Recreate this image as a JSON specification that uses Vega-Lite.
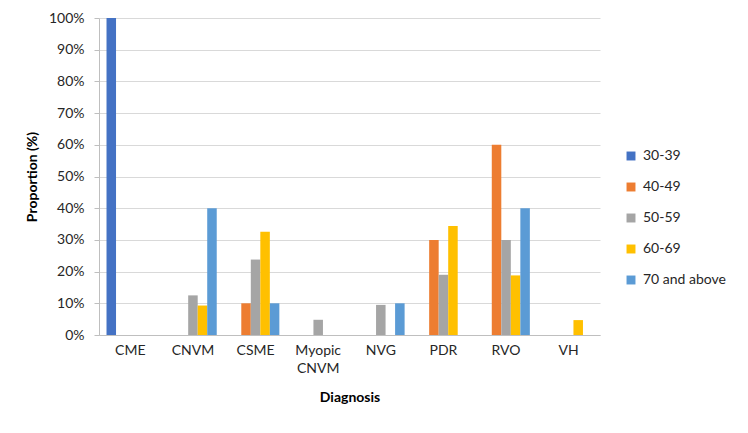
{
  "$schema": "https://vega.github.io/schema/vega-lite/v6.json",
  "width": 501,
  "height": 317,
  "autosize": {"type": "none"},
  "padding": {"left": 99, "top": 18, "right": 148, "bottom": 98},
  "background": "white",
  "config": {
    "font": "Lato",
    "view": {"stroke": null},
    "axis": {"labelFont": "Lato", "titleFont": "Lato", "labelColor": "#262626", "titleColor": "#000000"}
  },
  "data": {
    "values": [
      {"diagnosis": "CME", "age": "30-39", "p": 1.0},
      {"diagnosis": "CNVM", "age": "50-59", "p": 0.125},
      {"diagnosis": "CNVM", "age": "60-69", "p": 0.093},
      {"diagnosis": "CNVM", "age": "70 and above", "p": 0.4},
      {"diagnosis": "CSME", "age": "40-49", "p": 0.1},
      {"diagnosis": "CSME", "age": "50-59", "p": 0.238},
      {"diagnosis": "CSME", "age": "60-69", "p": 0.326},
      {"diagnosis": "CSME", "age": "70 and above", "p": 0.1},
      {"diagnosis": "Myopic CNVM", "age": "50-59", "p": 0.048},
      {"diagnosis": "NVG", "age": "50-59", "p": 0.095},
      {"diagnosis": "NVG", "age": "70 and above", "p": 0.1},
      {"diagnosis": "PDR", "age": "40-49", "p": 0.3},
      {"diagnosis": "PDR", "age": "50-59", "p": 0.19},
      {"diagnosis": "PDR", "age": "60-69", "p": 0.344},
      {"diagnosis": "RVO", "age": "40-49", "p": 0.6},
      {"diagnosis": "RVO", "age": "50-59", "p": 0.3},
      {"diagnosis": "RVO", "age": "60-69", "p": 0.188},
      {"diagnosis": "RVO", "age": "70 and above", "p": 0.4},
      {"diagnosis": "VH", "age": "60-69", "p": 0.047}
    ]
  },
  "mark": {"type": "bar"},
  "encoding": {
    "x": {
      "field": "diagnosis",
      "type": "nominal",
      "sort": ["CME", "CNVM", "CSME", "Myopic CNVM", "NVG", "PDR", "RVO", "VH"],
      "scale": {"domain": ["CME", "CNVM", "CSME", "Myopic CNVM", "NVG", "PDR", "RVO", "VH"], "paddingInner": 0.24, "paddingOuter": 0.12},
      "axis": {
        "title": "Diagnosis",
        "titleFontSize": 14,
        "titleFontWeight": "bold",
        "titlePadding": 15,
        "labelAngle": 0,
        "labelFontSize": 14,
        "labelPadding": 8,
        "labelExpr": "split(datum.label, ' ')",
        "ticks": false,
        "domainColor": "#BFBFBF",
        "labelLineHeight": 18
      }
    },
    "xOffset": {
      "field": "age",
      "type": "nominal",
      "scale": {"domain": ["30-39", "40-49", "50-59", "60-69", "70 and above"], "paddingInner": 0, "paddingOuter": 0}
    },
    "y": {
      "field": "p",
      "type": "quantitative",
      "scale": {"domain": [0, 1], "nice": false},
      "axis": {
        "title": "Proportion (%)",
        "titleFontSize": 14,
        "titleFontWeight": "bold",
        "titlePadding": 9,
        "format": ".0%",
        "values": [0, 0.1, 0.2, 0.3, 0.4, 0.5, 0.6, 0.7, 0.8, 0.9, 1.0],
        "labelFontSize": 14,
        "labelPadding": 10,
        "tickSize": 5,
        "tickColor": "#BFBFBF",
        "domainColor": "#BFBFBF",
        "gridColor": "#D9D9D9",
        "gridWidth": 1
      }
    },
    "color": {
      "field": "age",
      "type": "nominal",
      "scale": {
        "domain": ["30-39", "40-49", "50-59", "60-69", "70 and above"],
        "range": ["#4472C4", "#ED7D31", "#A5A5A5", "#FFC000", "#5B9BD5"]
      },
      "legend": {
        "title": null,
        "orient": "none",
        "legendX": 525,
        "legendY": 131,
        "symbolType": "square",
        "symbolSize": 80,
        "symbolStrokeWidth": 0,
        "labelFontSize": 14,
        "labelColor": "#262626",
        "labelFont": "Lato",
        "rowPadding": 17,
        "labelOffset": 5
      }
    }
  }
}
